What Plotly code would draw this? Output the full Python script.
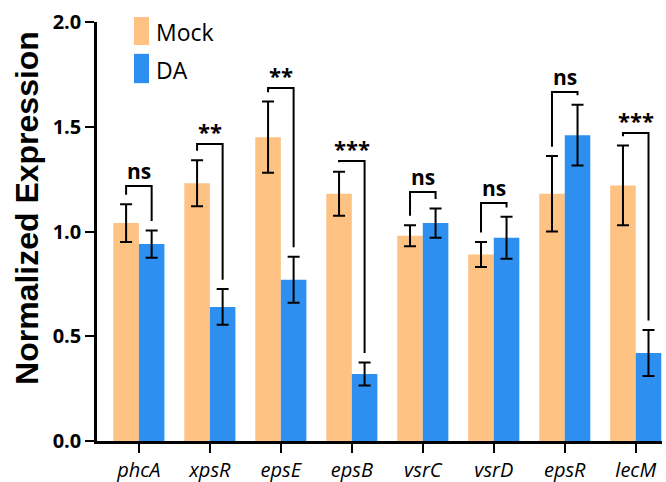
import plotly.graph_objects as go

genes = ["phcA", "xpsR", "epsE", "epsB", "vsrC", "vsrD", "epsR", "lecM"]
mock = [1.04, 1.23, 1.45, 1.18, 0.98, 0.89, 1.18, 1.22]
mock_err = [0.09, 0.11, 0.17, 0.105, 0.05, 0.06, 0.18, 0.19]
da = [0.94, 0.64, 0.77, 0.32, 1.04, 0.97, 1.46, 0.42]
da_err = [0.065, 0.085, 0.11, 0.055, 0.07, 0.10, 0.145, 0.11]
sig = ["ns", "**", "**", "***", "ns", "ns", "ns", "***"]
bracket_y = [1.217, 1.418, 1.685, 1.337, 1.189, 1.136, 1.666, 1.470]

ORANGE = "#FEC283"
BLUE = "#2D90F0"
FONT = "Open Sans"
TITLE_FONT = "Liberation Sans, Arial"
bargap = 0.28
off = (1 - bargap) / 4

fig = go.Figure()
fig.add_trace(go.Bar(x=list(range(len(genes))), y=mock, name="Mock", marker_color=ORANGE,
                     marker_line_width=0,
                     error_y=dict(type="data", array=mock_err, color="black", thickness=2, width=6)))
fig.add_trace(go.Bar(x=list(range(len(genes))), y=da, name="DA", marker_color=BLUE,
                     marker_line_width=0,
                     error_y=dict(type="data", array=da_err, color="black", thickness=2, width=6)))

gap = 0.045
for i, g in enumerate(genes):
    x1, x2 = i - off, i + off
    y1 = mock[i] + mock_err[i] + gap
    y2 = da[i] + da_err[i] + gap
    yb = bracket_y[i]
    fig.add_shape(type="path", xref="x", yref="y",
                  path=f"M {x1},{y1} L {x1},{yb} L {x2},{yb} L {x2},{y2}",
                  line=dict(color="black", width=2))
    fig.add_annotation(x=i, y=yb, xref="x", yref="y", text=f"<b>{sig[i]}</b>",
                       showarrow=False, yanchor="bottom", yshift=-1 if sig[i] == "ns" else -4,
                       font=dict(family=FONT, size=21 if sig[i] == "ns" else 22, color="black"))

# legend (drawn manually to match the tall swatches)
for col, name, y0, y1, yt in [(ORANGE, "Mock", 0.945, 1.012, 0.976), (BLUE, "DA", 0.854, 0.924, 0.885)]:
    fig.add_shape(type="rect", xref="paper", yref="paper", x0=0.0655, x1=0.092, y0=y0, y1=y1,
                  fillcolor=col, line_width=0)
    fig.add_annotation(xref="paper", yref="paper", x=0.1, y=yt, text=name, showarrow=False,
                       xanchor="left", yanchor="middle",
                       font=dict(family=FONT, size=23, color="black"))

# y-axis title
fig.add_annotation(xref="paper", yref="paper", x=-0.124, y=0.556, text="<b>Normalized Expression</b>",
                   textangle=-90, showarrow=False, xanchor="center", yanchor="middle",
                   font=dict(family=TITLE_FONT, size=32, color="black"))

fig.update_layout(
    width=666, height=482,
    margin=dict(l=97, r=4, t=22, b=41),
    paper_bgcolor="white", plot_bgcolor="white",
    barmode="group", bargap=bargap, bargroupgap=0,
    showlegend=False,
    font=dict(family=FONT, color="black"),
)
fig.update_xaxes(
    range=[-0.59, 7.37], tickmode="array", tickvals=list(range(len(genes))),
    ticktext=[f"<i>{g}</i>" for g in genes],
    showline=True, linecolor="black", linewidth=2.5, ticks="outside", ticklen=9,
    tickwidth=2, tickcolor="black", showgrid=False, zeroline=False, automargin=False,
    tickfont=dict(family=FONT, size=20, color="black"),
)
fig.update_yaxes(
    range=[0, 2.0], tickvals=[0, 0.5, 1.0, 1.5, 2.0],
    ticktext=["<b>0.0</b>", "<b>0.5</b>", "<b>1.0</b>", "<b>1.5</b>", "<b>2.0</b>"],
    showline=True, linecolor="black", linewidth=2.5, ticks="outside", ticklen=9,
    tickwidth=2, tickcolor="black", showgrid=False, zeroline=False, automargin=False,
    tickfont=dict(family=FONT, size=20, color="black"),
)
fig.write_html("out.html", config={"displayModeBar": False},
               post_script="document.body.style.margin='0';document.body.style.overflow='hidden';")
